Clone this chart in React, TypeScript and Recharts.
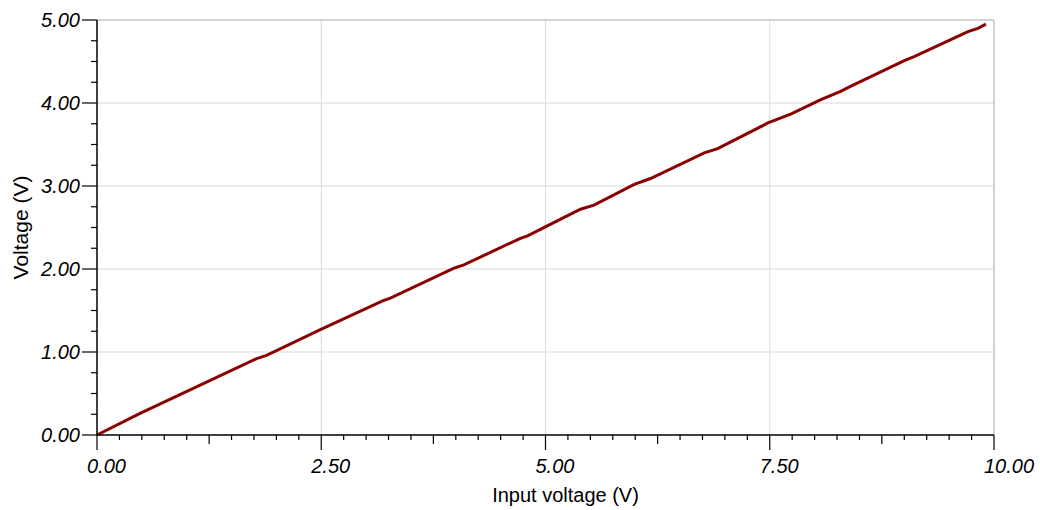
import React from "react";
import { LineChart, Line, XAxis, YAxis, ReferenceLine } from "recharts";

// sampled off the trace: input voltage (V) -> output voltage (V)
const inputV = [
  0, 0.48, 1.15, 1.78, 1.89, 2.49, 3.19, 3.27, 3.98, 4.09, 4.72, 4.8, 5.02,
  5.39, 5.54, 5.99, 6.17, 6.77, 6.92, 7.48, 7.74, 8.07, 8.29, 8.4, 9.0, 9.11,
  9.71, 9.82, 9.91,
];
const outputV = [
  0, 0.26, 0.6, 0.92, 0.96, 1.27, 1.62, 1.65, 2.01, 2.05, 2.37, 2.4, 2.52,
  2.72, 2.77, 3.02, 3.09, 3.4, 3.45, 3.76, 3.87, 4.04, 4.14, 4.2, 4.51, 4.56,
  4.86, 4.9, 4.95,
];

const xLabels = [0, 2.5, 5, 7.5, 10];
const yLabels = [0, 1, 2, 3, 4, 5];
const xGrid = [2.5, 5, 7.5];
const yGrid = [1, 2, 3, 4];

const data = inputV.map((x, i) => ({ x, y: outputV[i] }));

// minor ticks every 0.25 on both axes
const xTicks = Array.from({ length: 41 }, (_, i) => i * 0.25);
const yTicks = Array.from({ length: 21 }, (_, i) => i * 0.25);

const FONT = "'Liberation Sans', Arial, sans-serif";
const near = (v: number, list: number[]) => list.some((t) => Math.abs(t - v) < 1e-6);
const isMultiple = (v: number, step: number) => Math.abs(v / step - Math.round(v / step)) < 1e-6;

function XTick(props: any) {
  const { x, y, payload } = props;
  const v = payload.value as number;
  const major = near(v, xLabels);
  const len = major ? 15 : isMultiple(v, 1.25) ? 9 : 5;
  return (
    <g>
      <line x1={x} y1={y} x2={x} y2={y + len} stroke="#000" strokeWidth={1.2} />
      {major && (
        <text x={x - 10} y={y + 38} fontSize={20} fontStyle="italic" fontFamily={FONT} fill="#000">
          {v.toFixed(2)}
        </text>
      )}
    </g>
  );
}

function YTick(props: any) {
  const { x, y, payload } = props;
  const v = payload.value as number;
  const major = near(v, yLabels);
  const len = major ? 15 : 6;
  return (
    <g>
      <line x1={x} y1={y} x2={x - len} y2={y} stroke="#000" strokeWidth={1.2} />
      {major && (
        <text x={x - 17} y={y + 7} fontSize={20} fontStyle="italic" fontFamily={FONT} fill="#000" textAnchor="end">
          {v.toFixed(2)}
        </text>
      )}
    </g>
  );
}

export default function App() {
  return (
    <div style={{ position: "fixed", left: 0, top: 0, background: "#fff" }}>
      <LineChart width={1040} height={510} data={data} margin={{ top: 20, right: 46, bottom: 0, left: 0 }}>
        {yGrid.map((v) => (
          <ReferenceLine key={"y" + v} y={v} stroke="#d9d9d9" strokeWidth={1} />
        ))}
        {xGrid.map((v) => (
          <ReferenceLine key={"x" + v} x={v} stroke="#d9d9d9" strokeWidth={1} />
        ))}
        <ReferenceLine y={5} stroke="#c4c4c4" strokeWidth={1.5} />
        <ReferenceLine x={10} stroke="#c4c4c4" strokeWidth={1.5} />
        <XAxis
          dataKey="x"
          type="number"
          domain={[0, 10]}
          ticks={xTicks}
          interval={0}
          height={75}
          tickSize={0}
          tickMargin={0}
          tickLine={false}
          axisLine={{ stroke: "#000", strokeWidth: 1.5 }}
          tick={<XTick />}
          label={{
            content: (p: any) => (
              <text
                x={p.viewBox.x + p.viewBox.width / 2 + 20}
                y={p.viewBox.y + 67}
                fontSize={20}
                fontFamily={FONT}
                textAnchor="middle"
                fill="#000"
              >
                Input voltage (V)
              </text>
            ),
          }}
        />
        <YAxis
          type="number"
          domain={[0, 5]}
          ticks={yTicks}
          interval={0}
          width={97}
          tickSize={0}
          tickMargin={0}
          tickLine={false}
          axisLine={{ stroke: "#000", strokeWidth: 1.5 }}
          tick={<YTick />}
          label={{
            content: (p: any) => {
              const cx = p.viewBox.x + 20;
              const cy = p.viewBox.y + p.viewBox.height / 2;
              return (
                <text
                  x={cx}
                  y={cy}
                  transform={`rotate(-90 ${cx} ${cy})`}
                  fontSize={21}
                  fontFamily={FONT}
                  textAnchor="middle"
                  dominantBaseline="central"
                  fill="#000"
                >
                  Voltage (V)
                </text>
              );
            },
          }}
        />
        <Line
          type="linear"
          dataKey="y"
          stroke="#8b0000"
          strokeWidth={3}
          dot={false}
          isAnimationActive={false}
        />
      </LineChart>
    </div>
  );
}
